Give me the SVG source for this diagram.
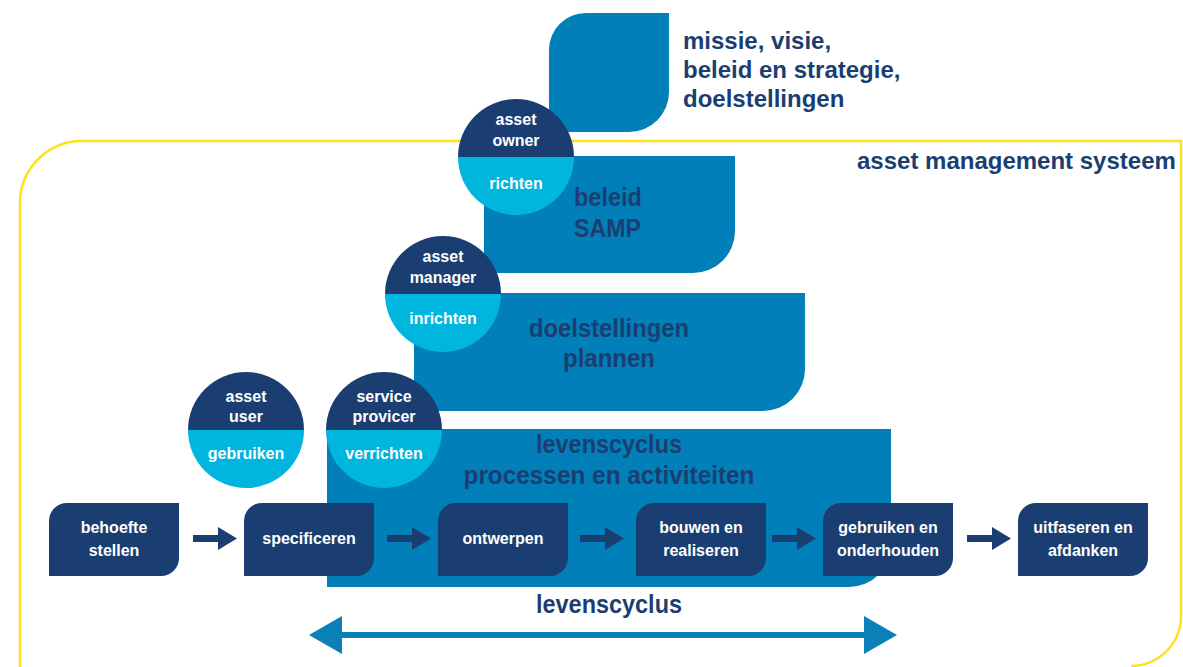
<svg xmlns="http://www.w3.org/2000/svg" width="1183" height="667" viewBox="0 0 1183 667">
<style>
.bg{fill:#ffffff}
.frame{fill:none;stroke:#ffe01b;stroke-width:2.5}
.blue{fill:#007fb8}
.navy{fill:#1b3e72}
.cyan{fill:#00b5de}
.t{font-family:"Liberation Sans",Arial,sans-serif;font-weight:700}
.big{font-size:24px;fill:#1b3e72}
.lab{font-size:26px;fill:#1b3e72}
.sm{font-size:16px;fill:#ffffff;text-anchor:middle}
.mid{text-anchor:middle}
.arr{fill:#1b3e72}
.darr{fill:#0a7fb8}
</style>
<rect class="bg" x="0" y="0" width="1183" height="667"/>
<g id="asset-management-systeem">
<path class="frame" d="M20,668 V203 A62,62 0 0 1 82,141 H1181 V616 A50,50 0 0 1 1131,666"/>
<text class="t big" x="857" y="169">asset management systeem</text>
</g>
<g id="missie">
<path class="blue" d="M549,50 A37,37 0 0 1 586,13 H669 V92 A40,40 0 0 1 629,132 H549 Z"/>
<text class="t big" x="683" y="49">missie, visie,</text>
<text class="t big" x="683" y="78">beleid en strategie,</text>
<text class="t big" x="683" y="107">doelstellingen</text>
</g>
<g id="beleid">
<path class="blue" d="M484,156 H735 V231 A42,42 0 0 1 693,273 H484 Z"/>
<text class="t lab" x="574" y="206" textLength="68" lengthAdjust="spacingAndGlyphs">beleid</text>
<text class="t lab" x="574" y="237" textLength="67" lengthAdjust="spacingAndGlyphs">SAMP</text>
</g>
<g id="doelstellingen">
<path class="blue" d="M414,293 H805 V369 A42,42 0 0 1 763,411 H414 Z"/>
<text class="t lab mid" x="609" y="337" textLength="160" lengthAdjust="spacingAndGlyphs">doelstellingen</text>
<text class="t lab mid" x="609" y="367" textLength="92" lengthAdjust="spacingAndGlyphs">plannen</text>
</g>
<g id="levenscyclus-processen">
<path class="blue" d="M327,429 H891 V545 A42,42 0 0 1 849,587 H327 Z"/>
<text class="t lab mid" x="609" y="453" textLength="146" lengthAdjust="spacingAndGlyphs">levenscyclus</text>
<text class="t lab mid" x="609" y="484" textLength="291" lengthAdjust="spacingAndGlyphs">processen en activiteiten</text>
</g>
<g id="asset-owner">
<path class="navy" d="M458,157 A58,58 0 0 1 574,157 Z"/>
<path class="cyan" d="M458,157 A58,58 0 0 0 574,157 Z"/>
<text class="t sm" x="516" y="125">asset</text>
<text class="t sm" x="516" y="146">owner</text>
<text class="t sm" x="516" y="189">richten</text>
</g>
<g id="asset-manager">
<path class="navy" d="M385,294 A58,58 0 0 1 501,294 Z"/>
<path class="cyan" d="M385,294 A58,58 0 0 0 501,294 Z"/>
<text class="t sm" x="443" y="262">asset</text>
<text class="t sm" x="443" y="283">manager</text>
<text class="t sm" x="443" y="324">inrichten</text>
</g>
<g id="service-provider">
<path class="navy" d="M326,430 A58,58 0 0 1 442,430 Z"/>
<path class="cyan" d="M326,430 A58,58 0 0 0 442,430 Z"/>
<text class="t sm" x="384" y="402">service</text>
<text class="t sm" x="384" y="422">provicer</text>
<text class="t sm" x="384" y="459">verrichten</text>
</g>
<g id="asset-user">
<path class="navy" d="M188,430 A58,58 0 0 1 304,430 Z"/>
<path class="cyan" d="M188,430 A58,58 0 0 0 304,430 Z"/>
<text class="t sm" x="246" y="402">asset</text>
<text class="t sm" x="246" y="422">user</text>
<text class="t sm" x="246" y="459">gebruiken</text>
</g>
<g id="behoefte-stellen">
<path class="navy" d="M49,521 A18,18 0 0 1 67,503 H179 V558 A18,18 0 0 1 161,576 H49 Z"/>
<text class="t sm" x="114" y="533">behoefte</text>
<text class="t sm" x="114" y="556">stellen</text>
</g>
<g id="specificeren">
<path class="navy" d="M244,521 A18,18 0 0 1 262,503 H374 V558 A18,18 0 0 1 356,576 H244 Z"/>
<text class="t sm" x="309" y="544">specificeren</text>
</g>
<g id="ontwerpen">
<path class="navy" d="M438,521 A18,18 0 0 1 456,503 H568 V558 A18,18 0 0 1 550,576 H438 Z"/>
<text class="t sm" x="503" y="544">ontwerpen</text>
</g>
<g id="bouwen-en-realiseren">
<path class="navy" d="M636,521 A18,18 0 0 1 654,503 H766 V558 A18,18 0 0 1 748,576 H636 Z"/>
<text class="t sm" x="701" y="533">bouwen en</text>
<text class="t sm" x="701" y="556">realiseren</text>
</g>
<g id="gebruiken-en-onderhouden">
<path class="navy" d="M823,521 A18,18 0 0 1 841,503 H953 V558 A18,18 0 0 1 935,576 H823 Z"/>
<text class="t sm" x="888" y="533">gebruiken en</text>
<text class="t sm" x="888" y="556">onderhouden</text>
</g>
<g id="uitfaseren-en-afdanken">
<path class="navy" d="M1018,521 A18,18 0 0 1 1036,503 H1148 V558 A18,18 0 0 1 1130,576 H1018 Z"/>
<text class="t sm" x="1083" y="533">uitfaseren en</text>
<text class="t sm" x="1083" y="556">afdanken</text>
</g>
<g id="connectors">
<polygon class="arr" points="193,535 218,535 218,527 237,538.5 218,550 218,542 193,542"/>
<polygon class="arr" points="387,535 412,535 412,527 431,538.5 412,550 412,542 387,542"/>
<polygon class="arr" points="580,535 605,535 605,527 624,538.5 605,550 605,542 580,542"/>
<polygon class="arr" points="772,535 797,535 797,527 816,538.5 797,550 797,542 772,542"/>
<polygon class="arr" points="967,535 992,535 992,527 1011,538.5 992,550 992,542 967,542"/>
<polygon class="darr" points="309,635 342,616 342,632 864,632 864,616 897,635 864,654 864,638 342,638 342,654"/>
</g>
<g id="levenscyclus-label">
<text class="t lab mid" x="609" y="613" textLength="146" lengthAdjust="spacingAndGlyphs">levenscyclus</text>
</g>
</svg>
